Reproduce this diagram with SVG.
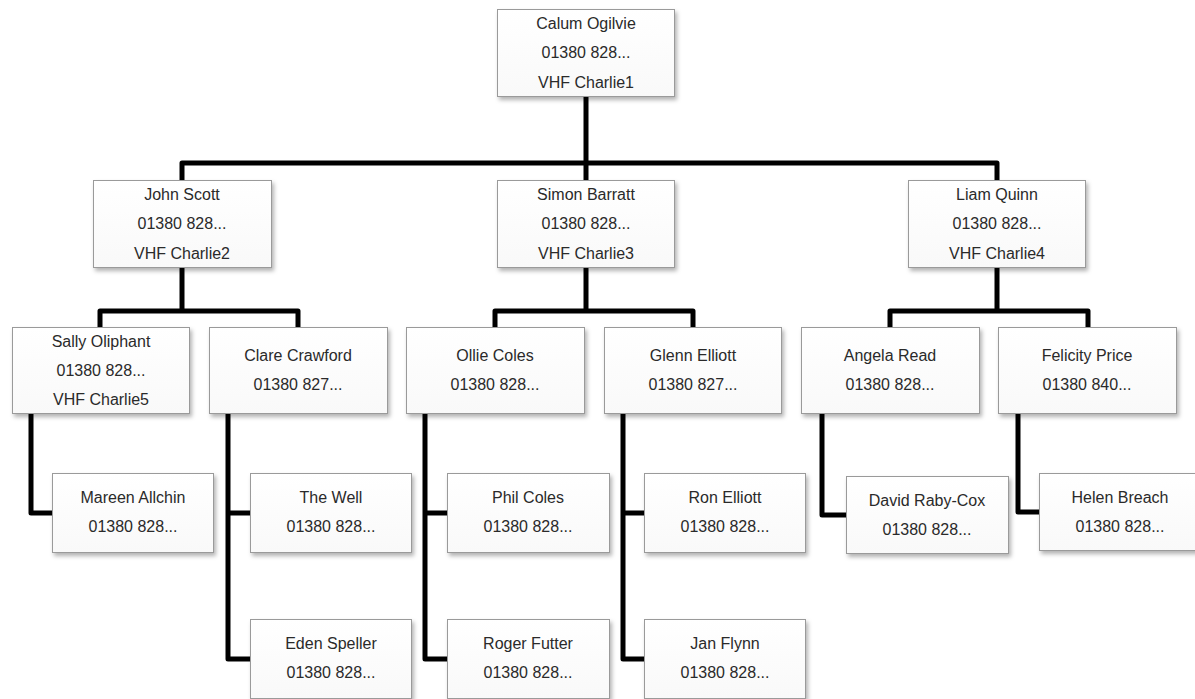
<svg xmlns="http://www.w3.org/2000/svg" width="1195" height="699" viewBox="0 0 1195 699">
<defs>
<filter id="sh" x="-10%" y="-10%" width="130%" height="140%">
<feDropShadow dx="2" dy="3" stdDeviation="2" flood-color="#000" flood-opacity="0.3"/>
</filter>
<linearGradient id="bg" x1="0" y1="0" x2="0" y2="1">
<stop offset="0" stop-color="#ffffff"/>
<stop offset="1" stop-color="#f9f9f9"/>
</linearGradient>
</defs>
<style>
.box{fill:url(#bg);stroke:#9a9a9a;stroke-width:1;filter:url(#sh)}
.t{font-family:"Liberation Sans",Arial,sans-serif;font-size:16px;fill:#2a2a2a;text-anchor:middle}
.c{fill:none;stroke:#000;stroke-width:5;stroke-linejoin:round;stroke-linecap:butt}
</style>
<rect width="1195" height="699" fill="#fff"/>
<g id="connectors">
<path class="c" d="M586,96 V163 M182,180 V163 H997 V180 M586,163 V180"/>
<path class="c" d="M182,267 V311 M100,327 V311 H298 V327"/>
<path class="c" d="M586,267 V311 M495,327 V311 H693 V327"/>
<path class="c" d="M997,267 V311 M890,327 V311 H1088 V327"/>
<path class="c" d="M31,413 V513 H53"/>
<path class="c" d="M228,413 V659 H251 M228,513 H251"/>
<path class="c" d="M425,413 V659 H448 M425,513 H448"/>
<path class="c" d="M623,413 V659 H645 M623,513 H645"/>
<path class="c" d="M822,413 V515 H847"/>
<path class="c" d="M1018,413 V512 H1040"/>
</g>
<g id="calum"><rect class="box" x="497.5" y="9.5" width="177" height="87"/>
<text class="t" x="586" y="29">Calum Ogilvie</text><text class="t" x="586" y="58">01380 828...</text><text class="t" x="586" y="88">VHF Charlie1</text></g>
<g id="john"><rect class="box" x="93.5" y="180.5" width="178" height="87"/>
<text class="t" x="182" y="200">John Scott</text><text class="t" x="182" y="229">01380 828...</text><text class="t" x="182" y="259">VHF Charlie2</text></g>
<g id="simon"><rect class="box" x="497.5" y="180.5" width="177" height="87"/>
<text class="t" x="586" y="200">Simon Barratt</text><text class="t" x="586" y="229">01380 828...</text><text class="t" x="586" y="259">VHF Charlie3</text></g>
<g id="liam"><rect class="box" x="908.5" y="180.5" width="177" height="87"/>
<text class="t" x="997" y="200">Liam Quinn</text><text class="t" x="997" y="229">01380 828...</text><text class="t" x="997" y="259">VHF Charlie4</text></g>
<g id="sally"><rect class="box" x="12.5" y="327.5" width="177" height="86"/>
<text class="t" x="101" y="347">Sally Oliphant</text><text class="t" x="101" y="376">01380 828...</text><text class="t" x="101" y="405">VHF Charlie5</text></g>
<g id="clare"><rect class="box" x="209.5" y="327.5" width="178" height="86"/>
<text class="t" x="298" y="361">Clare Crawford</text><text class="t" x="298" y="390">01380 827...</text></g>
<g id="ollie"><rect class="box" x="406.5" y="327.5" width="178" height="86"/>
<text class="t" x="495" y="361">Ollie Coles</text><text class="t" x="495" y="390">01380 828...</text></g>
<g id="glenn"><rect class="box" x="604.5" y="327.5" width="177" height="86"/>
<text class="t" x="693" y="361">Glenn Elliott</text><text class="t" x="693" y="390">01380 827...</text></g>
<g id="angela"><rect class="box" x="801.5" y="327.5" width="178" height="86"/>
<text class="t" x="890" y="361">Angela Read</text><text class="t" x="890" y="390">01380 828...</text></g>
<g id="felicity"><rect class="box" x="998.5" y="327.5" width="178" height="86"/>
<text class="t" x="1087" y="361">Felicity Price</text><text class="t" x="1087" y="390">01380 840...</text></g>
<g id="mareen"><rect class="box" x="52.5" y="473.5" width="161" height="79"/>
<text class="t" x="133" y="503">Mareen Allchin</text><text class="t" x="133" y="532">01380 828...</text></g>
<g id="thewell"><rect class="box" x="250.5" y="473.5" width="161" height="79"/>
<text class="t" x="331" y="503">The Well</text><text class="t" x="331" y="532">01380 828...</text></g>
<g id="eden"><rect class="box" x="250.5" y="619.5" width="161" height="79"/>
<text class="t" x="331" y="649">Eden Speller</text><text class="t" x="331" y="678">01380 828...</text></g>
<g id="phil"><rect class="box" x="447.5" y="473.5" width="162" height="79"/>
<text class="t" x="528" y="503">Phil Coles</text><text class="t" x="528" y="532">01380 828...</text></g>
<g id="roger"><rect class="box" x="447.5" y="619.5" width="162" height="79"/>
<text class="t" x="528" y="649">Roger Futter</text><text class="t" x="528" y="678">01380 828...</text></g>
<g id="ron"><rect class="box" x="644.5" y="473.5" width="161" height="79"/>
<text class="t" x="725" y="503">Ron Elliott</text><text class="t" x="725" y="532">01380 828...</text></g>
<g id="jan"><rect class="box" x="644.5" y="619.5" width="161" height="79"/>
<text class="t" x="725" y="649">Jan Flynn</text><text class="t" x="725" y="678">01380 828...</text></g>
<g id="david"><rect class="box" x="846.5" y="476.5" width="162" height="77"/>
<text class="t" x="927" y="506">David Raby-Cox</text><text class="t" x="927" y="535">01380 828...</text></g>
<g id="helen"><rect class="box" x="1039.5" y="473.5" width="162" height="77"/>
<text class="t" x="1120" y="503">Helen Breach</text><text class="t" x="1120" y="532">01380 828...</text></g>
</svg>
